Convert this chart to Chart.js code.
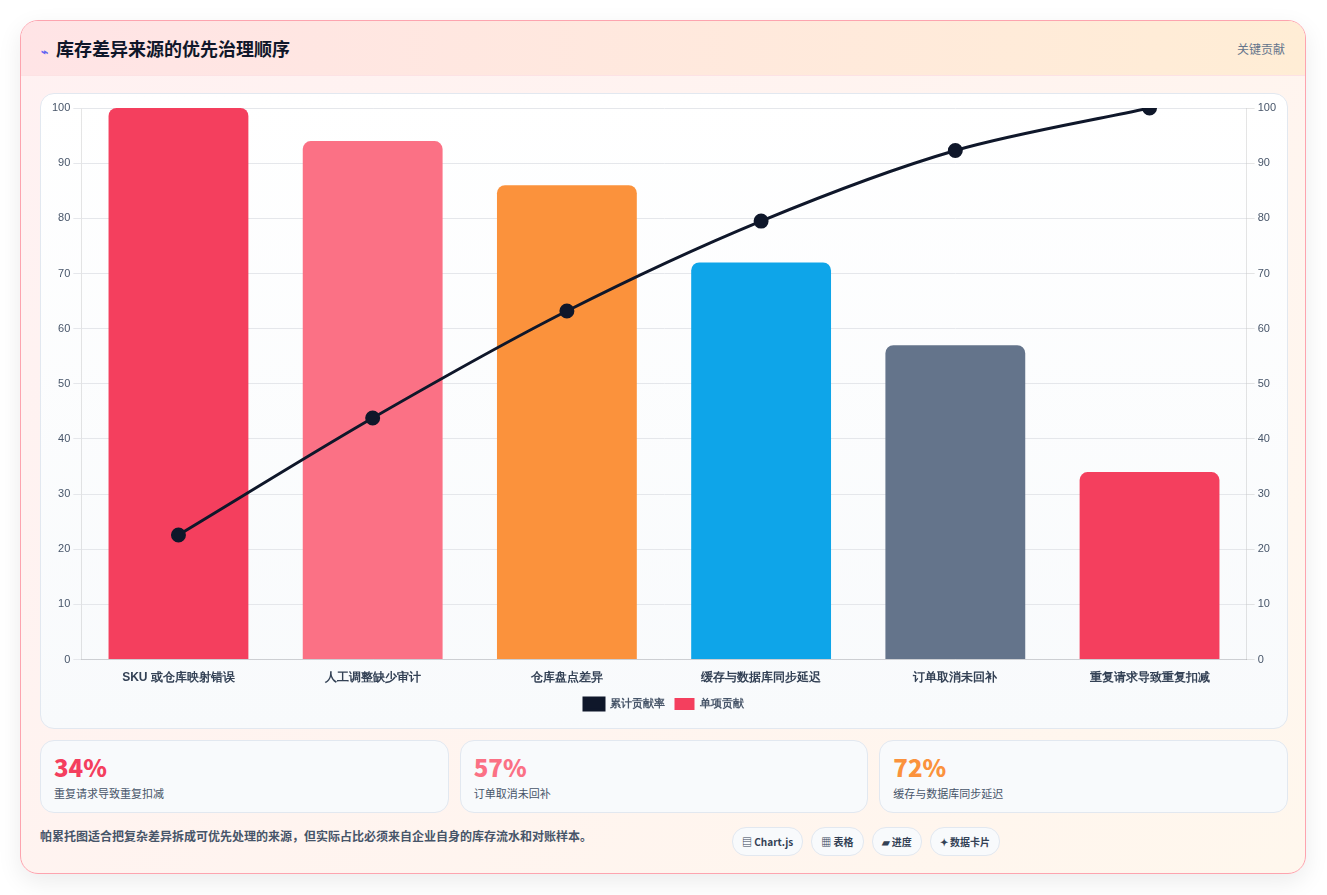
<!DOCTYPE html>
<html><head><meta charset="utf-8">
<script src="https://cdn.jsdelivr.net/npm/chart.js@4"></script>
<style>
*{box-sizing:border-box}
body{margin:0;width:1327px;height:895px;background:#fff;font-family:"Noto Sans CJK SC","Noto Sans",sans-serif;}
.card{position:absolute;left:20px;top:20px;width:1286px;height:854px;border:1px solid #fda4af;border-radius:18px;overflow:hidden;background:linear-gradient(135deg,#fff1f2,#fff7ed);box-shadow:0 8px 24px rgba(0,0,0,.08)}
.hd{height:55px;background:linear-gradient(90deg,#ffe4e6,#ffedd5);border-bottom:1px solid #fde2e4;display:flex;align-items:center;padding:0 20px;justify-content:space-between}
.hd h1{margin:0;font-size:18px;font-weight:700;color:#0f172a}
.hd h1 span{color:#6366f1;font-size:12px;margin-right:8px}
.hd .r{font-size:12px;color:#64748b}
.panel{position:absolute;left:19px;top:72px;width:1248px;height:636px;border:1px solid #e2e8f0;border-radius:14px;background:linear-gradient(#fff,#f8fafc)}
.kpis{position:absolute;left:19px;top:719px;width:1248px;display:flex;gap:11px}
.kpi{flex:1;height:73px;border:1px solid #e2e8f0;border-radius:14px;background:#f8fafc;padding:12px 13px}
.kpi b{display:block;font-size:24px;line-height:28px;font-weight:800}
.kpi div{font-size:11px;color:#475569;margin-top:4px}
.ft{position:absolute;left:19px;top:806px;font-size:12px;color:#475569;font-weight:600}
.tags{position:absolute;left:711px;top:806px;display:flex;gap:8px}
.tags span{font-size:10px;font-weight:700;color:#334155;border:1px solid #e2e8f0;border-radius:14px;padding:6px 9px;background:#f8fafc}
</style></head><body>
<div class="card">
<div class="hd"><h1><span>⌁</span>库存差异来源的优先治理顺序</h1><div class="r">关键贡献</div></div>
<div class="panel"><canvas id="c"></canvas></div>
<div class="kpis">
<div class="kpi"><b style="color:#f43f5e">34%</b><div>重复请求导致重复扣减</div></div>
<div class="kpi"><b style="color:#fb7185">57%</b><div>订单取消未回补</div></div>
<div class="kpi"><b style="color:#fb923c">72%</b><div>缓存与数据库同步延迟</div></div>
</div>
<div class="ft">帕累托图适合把复杂差异拆成可优先处理的来源，但实际占比必须来自企业自身的库存流水和对账样本。</div>
<div class="tags"><span>▤ Chart.js</span><span>▦ 表格</span><span>▰ 进度</span><span>✦ 数据卡片</span></div>
</div>
<script>
const categories=["SKU 或仓库映射错误","人工调整缺少审计","仓库盘点差异","缓存与数据库同步延迟","订单取消未回补","重复请求导致重复扣减"];
const singleValues=[100,94,86,72,57,34];
const cumulativeValues=[22.6,43.8,63.2,79.5,92.3,100];
const barColors=["#f43f5e","#fb7185","#fb923c","#0ea5e9","#64748b","#f43f5e"];
const cv=document.getElementById('c');
cv.width=1246;cv.height=634;cv.style.width='1246px';cv.style.height='634px';
new Chart(cv,{data:{labels:categories,datasets:[
{type:'line',label:'累计贡献率',data:cumulativeValues,yAxisID:'y1',borderColor:'#0f172a',backgroundColor:'#0f172a',borderWidth:3,pointRadius:6,tension:0.3,order:0},
{type:'bar',label:'单项贡献',data:singleValues,yAxisID:'y',backgroundColor:barColors,borderRadius:8,borderSkipped:'bottom',categoryPercentage:0.72,barPercentage:1,order:1}]},
options:{responsive:false,animation:false,layout:{padding:{left:8,right:8,top:14,bottom:8}},
plugins:{legend:{position:'bottom',labels:{boxWidth:20,boxHeight:12,font:{size:11,weight:'600'},color:'#475569'}},tooltip:{enabled:false}},
scales:{x:{grid:{display:false},ticks:{color:'#334155',font:{size:12,weight:'600'}}},
y:{min:0,max:100,ticks:{stepSize:10,color:'#475569',font:{size:11}},grid:{color:'#e5e7eb'}},
y1:{position:'right',min:0,max:100,ticks:{stepSize:10,color:'#475569',font:{size:11}},grid:{drawOnChartArea:false}}}}});
</script>
</body></html>
